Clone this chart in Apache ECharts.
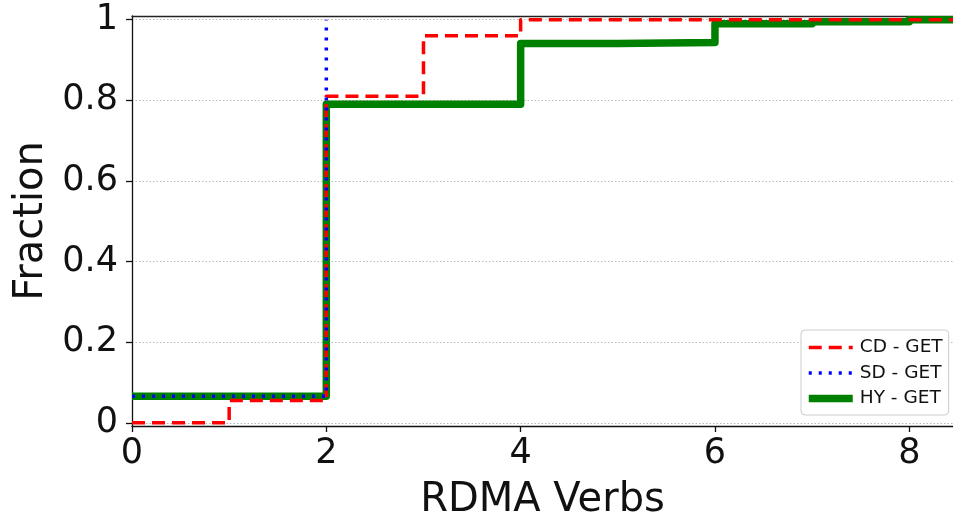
<!DOCTYPE html>
<html>
<head>
<meta charset="utf-8">
<script src="https://cdn.jsdelivr.net/npm/echarts@6/dist/echarts.min.js"></script>
<style>
  html, body { margin: 0; padding: 0; background: #fff; }
  #chart { width: 953px; height: 521px; }
</style>
</head>
<body>
<div id="chart"></div>
<script>
// CDF of RDMA verbs per GET request: step points [verbs, cumulative fraction]
const cdGet = [[0, 0.0], [1, 0.055], [2, 0.81], [3, 0.96], [4, 1.0], [12, 1.0]];
const sdGet = [[0, 0.066], [2, 1.0]];
const hyGet = [[0, 0.066], [2, 0.79], [4, 0.941], [5, 0.943], [6, 0.99], [7, 0.995], [8, 1.0], [12, 1.0]];

const seriesNames = ['CD - GET', 'SD - GET', 'HY - GET'];
const xTicks = [0, 2, 4, 6, 8];
const yTicks = [0, 0.2, 0.4, 0.6, 0.8, 1];

const FONT = 'DejaVu Sans';
const RED_STYLE = { color: '#ff0000', width: 3.5, type: [13, 7], join: 'round' };
const BLUE_STYLE = { color: '#0000ff', width: 3.5, type: [3, 7] };
const GREEN_STYLE = { color: '#008000', width: 7.5, join: 'round' };

const chart = echarts.init(document.getElementById('chart'), null, { renderer: 'canvas' });

chart.setOption({
  animation: false,
  backgroundColor: '#ffffff',
  grid: { left: 132, right: 0, top: 16, bottom: 95, containLabel: false, outerBoundsMode: 'none' },
  legend: {
    data: [
      { name: seriesNames[0], lineStyle: RED_STYLE },
      { name: seriesNames[1], lineStyle: BLUE_STYLE },
      { name: seriesNames[2], lineStyle: GREEN_STYLE }
    ],
    orient: 'vertical',
    left: 801,
    top: 330,
    padding: [8, 6, 7, 4],
    itemWidth: 44,
    itemHeight: 16,
    itemGap: 6.5,
    itemStyle: { opacity: 0 },
    backgroundColor: 'rgba(255,255,255,0.9)',
    borderColor: '#cccccc',
    borderWidth: 1,
    borderRadius: 4,
    textStyle: { fontFamily: FONT, fontSize: 18.5, color: '#111', padding: [0, 0, 0, 2] }
  },
  xAxis: [{
    type: 'value',
    min: 0,
    max: 8.45,
    name: 'RDMA Verbs',
    nameLocation: 'middle',
    nameGap: 55,
    nameTextStyle: { fontFamily: FONT, fontSize: 40, color: '#111' },
    axisLine: { show: true, onZero: false, lineStyle: { color: '#111', width: 1.3 } },
    axisTick: { show: true, inside: false, length: 6, customValues: xTicks, lineStyle: { color: '#111', width: 1.3 } },
    axisLabel: { customValues: xTicks, margin: 10, fontFamily: FONT, fontSize: 35, color: '#111',
                 formatter: v => String(v) },
    splitLine: { show: false }
  }, {
    type: 'value',
    position: 'top',
    min: 0,
    max: 8.45,
    axisLine: { show: true, onZero: false, lineStyle: { color: '#222', width: 1.3 } },
    axisTick: { show: false },
    axisLabel: { show: false },
    splitLine: { show: false }
  }],
  yAxis: {
    type: 'value',
    min: -0.008,
    max: 1.009,
    name: 'Fraction',
    nameLocation: 'middle',
    nameGap: 77,
    nameTextStyle: { fontFamily: FONT, fontSize: 40, color: '#111' },
    axisLine: { show: true, onZero: false, lineStyle: { color: '#111', width: 1.3 } },
    axisTick: { show: true, inside: false, length: 6, customValues: yTicks, lineStyle: { color: '#111', width: 1.3 } },
    axisLabel: { customValues: yTicks, margin: 14, fontFamily: FONT, fontSize: 35, color: '#111',
                 formatter: v => String(Math.round(v * 10) / 10) },
    splitLine: { show: true, lineStyle: { color: '#b8b8b8', width: 1, type: [1.5, 2] } }
  },
  series: [
    {
      name: seriesNames[0], type: 'line', step: 'end', data: cdGet, z: 3,
      symbol: 'none', showSymbol: false, clip: true,
      lineStyle: RED_STYLE, itemStyle: { color: '#ff0000' }
    },
    {
      name: seriesNames[1], type: 'line', step: 'end', data: sdGet, z: 4,
      symbol: 'none', showSymbol: false, clip: true,
      lineStyle: BLUE_STYLE, itemStyle: { color: '#0000ff' }
    },
    {
      name: seriesNames[2], type: 'line', step: 'end', data: hyGet, z: 2,
      symbol: 'none', showSymbol: false, clip: true,
      lineStyle: GREEN_STYLE, itemStyle: { color: '#008000' }
    }
  ]
});
</script>
</body>
</html>
